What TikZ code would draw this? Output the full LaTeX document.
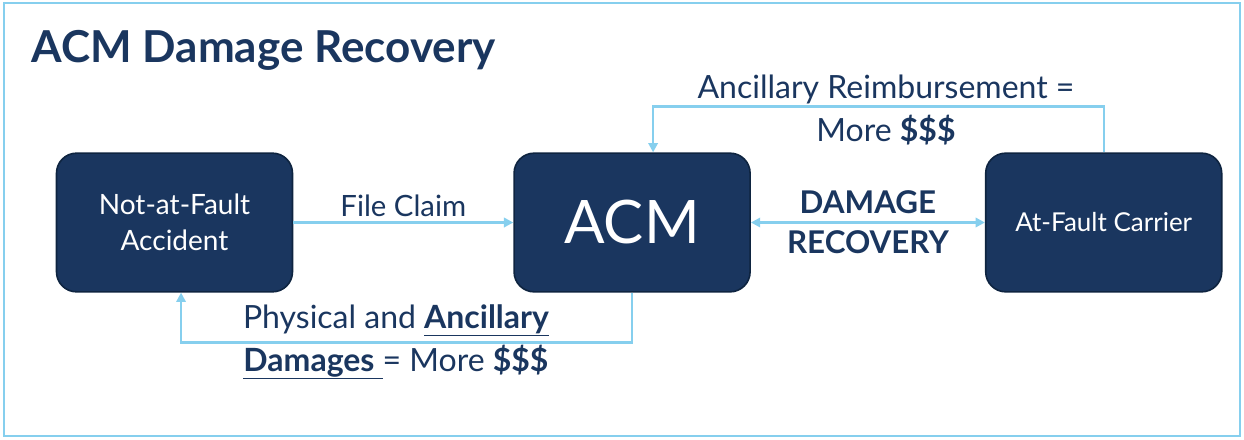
\documentclass[tikz,border=0pt]{standalone}
\usepackage{fontspec}
\setmainfont{Lato}
\usepackage{xcolor}
\usetikzlibrary{positioning, arrows.meta}
\definecolor{navy}{HTML}{1A365F}
\definecolor{edge}{HTML}{0E2440}
\definecolor{sky}{HTML}{86CFEE}

\begin{document}
\begin{tikzpicture}[x=0.75pt, y=-0.75pt, node distance=165pt, >={Triangle[length=7pt,width=7pt]},
    box/.style={rectangle, draw=edge, line width=1.2pt, fill=navy, rounded corners=15pt, minimum width=177pt, minimum height=104pt, align=center, text=white, font=\fontsize{21}{27}\selectfont},
    link/.style={draw=sky, line width=1.8pt},
    lbl/.style={text=navy, align=center, font=\fontsize{24}{32}\selectfont}
]
\useasboundingbox (0,0) rectangle (1244,439);
\draw[sky, line width=2pt] (4,3) rectangle (1240,436);

% Title
\node (title) [anchor=base west, text=navy, font=\fontsize{33}{38}\selectfont\bfseries] at (27,62) {ACM Damage Recovery};

% Row of boxes
\node (accident) [box] at (174.5,222.5) {Not-at-Fault\\Accident};
\node (acm) [box, right=165pt of accident, font=\fontsize{45}{50}\selectfont] {ACM};
\node (carrier) [box, right=175.5pt of acm, font=\fontsize{19.5}{22}\selectfont] {At-Fault Carrier};

% Labels
\node (reimb) [lbl] at (886,110) {Ancillary Reimbursement =\\More \textbf{\$\$\$}};
\node (damages) [lbl] at (396,342) {Physical and \underline{\textbf{Ancillary}}\\\underline{\textbf{Damages}\ }= More \textbf{\$\$\$}};

% Connections
\draw [link, ->] (accident) -- node[lbl, above, font=\fontsize{22}{26}\selectfont] (claim) {File Claim} (acm);
\draw [link, <->] (acm) -- node[lbl, above=2pt, font=\fontsize{23.5}{26}\selectfont\bfseries] (dmg) {DAMAGE}
    node[lbl, below=2pt, font=\fontsize{23.5}{26}\selectfont\bfseries] (rec) {RECOVERY} (carrier);
\draw [link, ->] (carrier.north) -- ++(0,-46) -| ([xshift=15.75pt]acm.north);
\draw [link, ->] (acm.south) -- ++(0,50) -| ([xshift=4.9pt]accident.south);

\end{tikzpicture}
\end{document}
